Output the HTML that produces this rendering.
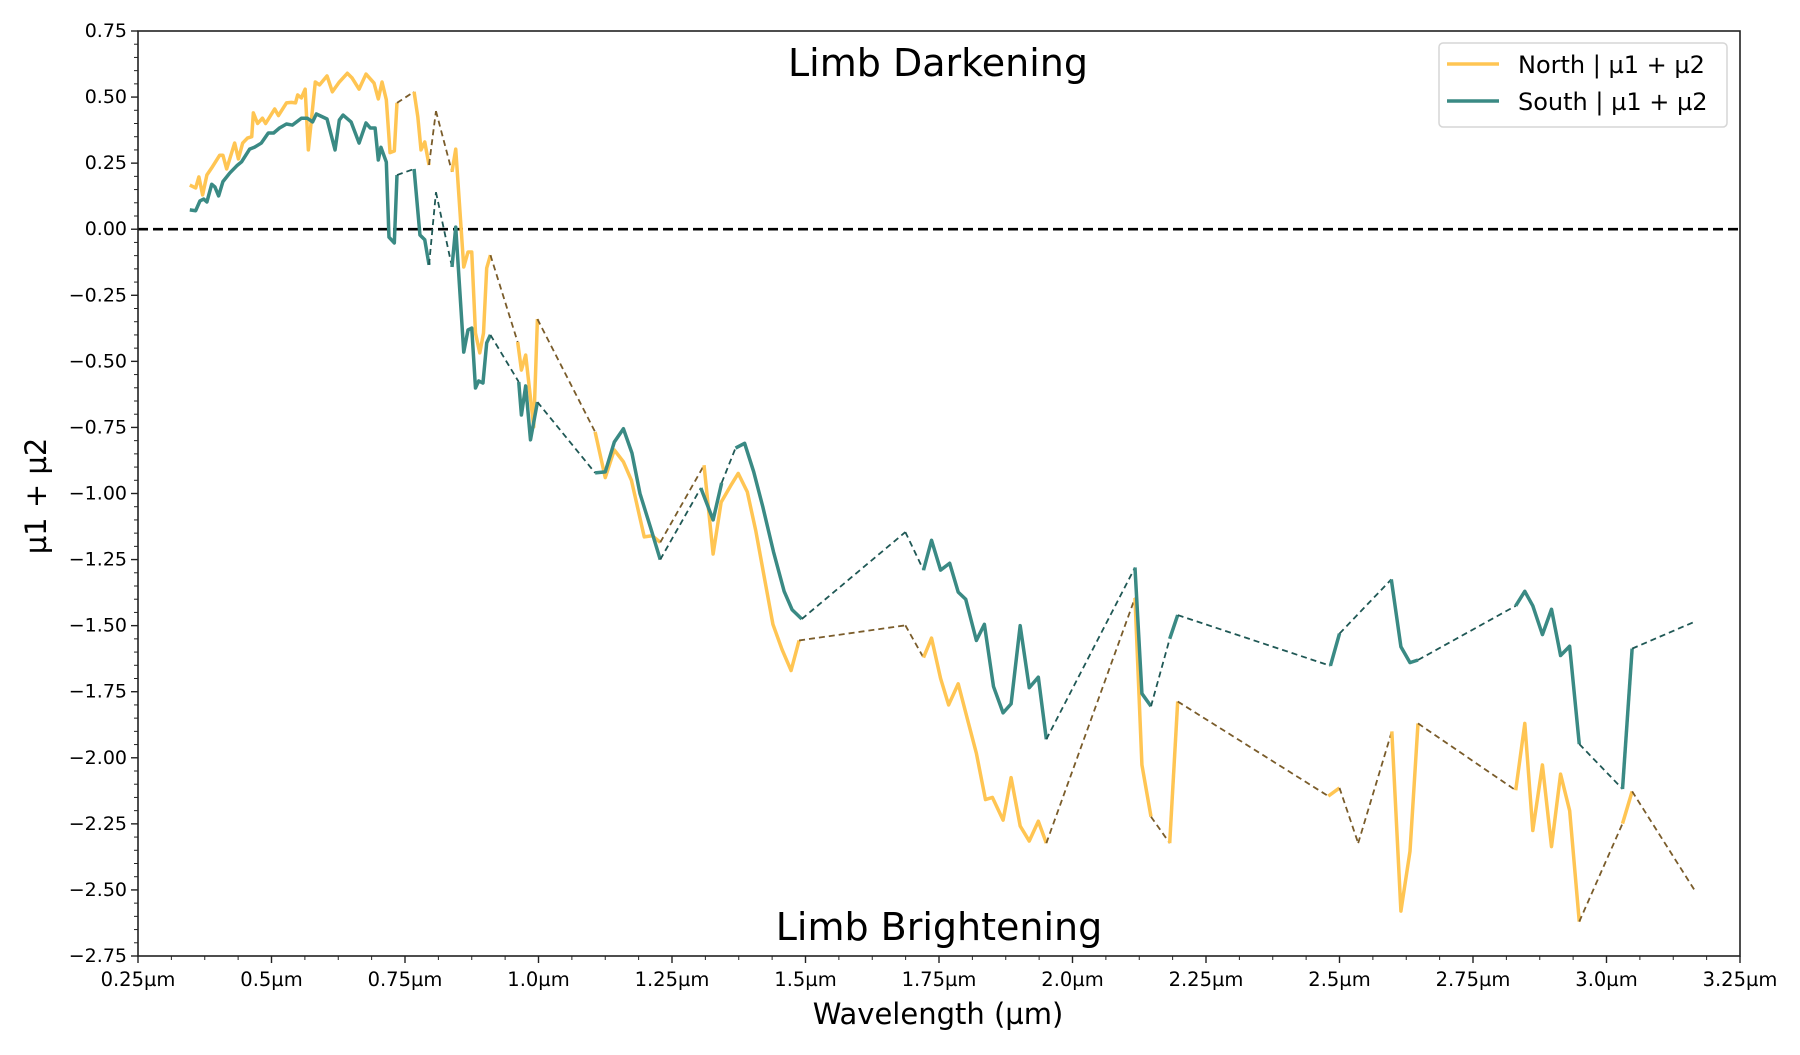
<!DOCTYPE html>
<html><head><meta charset="utf-8"><style>
html,body{margin:0;padding:0;background:#fff;}
svg text{font-family:"DejaVu Sans","Liberation Sans",sans-serif;}
</style></head><body>
<svg id="chart" width="1800" height="1050" viewBox="0 0 1800 1050" xmlns="http://www.w3.org/2000/svg">
<rect width="1800" height="1050" fill="#fff"/>
<g id="grid"></g>
<g id="series"></g>
<g id="axes"></g>
</svg>
<script>
const xTicks = [0.25,0.5,0.75,1.0,1.25,1.5,1.75,2.0,2.25,2.5,2.75,3.0,3.25];
const xTickLabels = ["0.25µm","0.5µm","0.75µm","1.0µm","1.25µm","1.5µm","1.75µm","2.0µm","2.25µm","2.5µm","2.75µm","3.0µm","3.25µm"];
const yTicks = [0.75,0.5,0.25,0,-0.25,-0.5,-0.75,-1,-1.25,-1.5,-1.75,-2,-2.25,-2.5,-2.75];
const yTickLabels = ["0.75","0.50","0.25","0.00","−0.25","−0.50","−0.75","−1.00","−1.25","−1.50","−1.75","−2.00","−2.25","−2.50","−2.75"];

// North: null entries mark gaps (bridged by dashed lines)
const northWl = [0.347,0.358,0.364,0.371,0.379,0.388,0.403,0.409,0.416,0.431,0.438,0.446,0.455,0.463,0.466,0.474,0.483,0.489,0.506,0.513,0.528,0.537,0.545,0.549,0.556,0.563,0.569,0.582,0.59,0.604,0.614,0.627,0.642,0.651,0.664,0.677,0.692,0.70,0.707,0.715,0.722,0.73,0.735,0.75,0.767,0.774,0.78,0.787,0.795,0.80,0.808,0.82,0.838,0.845,0.86,0.868,0.875,0.882,0.89,0.897,0.903,0.91,0.93,0.961,0.968,0.976,0.991,0.998,1.05,1.106,1.125,1.142,1.159,1.174,1.198,1.213,1.228,1.27,1.31,1.327,1.342,1.36,1.374,1.391,1.407,1.424,1.439,1.456,1.473,1.488,1.6,1.687,1.70,1.721,1.736,1.753,1.768,1.786,1.803,1.82,1.837,1.85,1.87,1.885,1.902,1.919,1.936,1.951,2.0,2.117,2.13,2.147,2.16,2.182,2.197,2.3,2.479,2.5,2.52,2.535,2.56,2.598,2.615,2.632,2.647,2.7,2.83,2.847,2.862,2.88,2.897,2.914,2.931,2.949,3.0,3.03,3.048,3.1,3.164];
const northVal = [0.167,0.156,0.198,0.13,0.205,0.232,0.28,0.28,0.228,0.326,0.266,0.326,0.345,0.35,0.44,0.40,0.42,0.40,0.455,0.43,0.478,0.48,0.478,0.508,0.497,0.53,0.30,0.557,0.546,0.58,0.52,0.557,0.59,0.572,0.53,0.587,0.553,0.493,0.557,0.49,0.29,0.296,0.478,null,0.52,0.425,0.30,0.33,0.243,null,0.447,null,0.217,0.303,-0.143,-0.086,-0.086,-0.393,-0.468,-0.393,-0.147,-0.098,null,-0.427,-0.533,-0.476,-0.748,-0.34,null,-0.767,-0.94,-0.835,-0.88,-0.95,-1.164,-1.16,-1.185,null,-0.893,-1.229,-1.033,-0.97,-0.924,-0.994,-1.142,-1.33,-1.495,-1.59,-1.67,-1.556,null,-1.499,null,-1.621,-1.547,-1.70,-1.80,-1.72,-1.852,-1.983,-2.158,-2.15,-2.236,-2.075,-2.258,-2.315,-2.24,-2.323,null,-1.395,-2.027,-2.223,null,-2.323,-1.787,null,-2.145,-2.114,null,-2.323,null,-1.90,-2.58,-2.354,-1.87,null,-2.123,-1.87,-2.275,-2.027,-2.336,-2.062,-2.2,-2.62,null,-2.249,-2.127,null,-2.498];

const southWl = [0.347,0.358,0.366,0.373,0.379,0.388,0.394,0.401,0.409,0.422,0.435,0.444,0.459,0.468,0.481,0.494,0.504,0.515,0.528,0.539,0.556,0.567,0.577,0.584,0.604,0.619,0.627,0.634,0.649,0.664,0.677,0.685,0.694,0.70,0.705,0.715,0.72,0.73,0.735,0.75,0.767,0.778,0.787,0.795,0.80,0.808,0.82,0.838,0.845,0.86,0.868,0.875,0.882,0.888,0.896,0.903,0.91,0.93,0.963,0.968,0.976,0.985,0.998,1.05,1.106,1.125,1.142,1.159,1.175,1.19,1.21,1.228,1.27,1.304,1.327,1.343,1.355,1.369,1.386,1.403,1.42,1.44,1.46,1.475,1.493,1.6,1.687,1.70,1.721,1.736,1.753,1.77,1.786,1.80,1.82,1.835,1.852,1.87,1.885,1.902,1.919,1.936,1.951,2.0,2.117,2.13,2.147,2.16,2.182,2.197,2.3,2.483,2.5,2.55,2.597,2.615,2.632,2.647,2.7,2.83,2.847,2.862,2.88,2.897,2.914,2.931,2.949,3.0,3.03,3.048,3.1,3.164];
const southVal = [0.073,0.07,0.107,0.114,0.103,0.17,0.16,0.126,0.18,0.213,0.24,0.255,0.303,0.31,0.326,0.364,0.364,0.383,0.398,0.394,0.42,0.42,0.406,0.436,0.417,0.30,0.413,0.432,0.406,0.326,0.402,0.383,0.383,0.262,0.31,0.254,-0.03,-0.052,0.205,null,0.228,-0.022,-0.04,-0.135,null,0.14,null,-0.143,0.008,-0.465,-0.381,-0.374,-0.601,-0.574,-0.582,-0.43,-0.40,null,-0.578,-0.703,-0.593,-0.797,-0.654,null,-0.922,-0.918,-0.805,-0.755,-0.847,-1.0,-1.13,-1.25,null,-0.979,-1.10,-0.96,null,-0.828,-0.81,-0.918,-1.05,-1.22,-1.37,-1.44,-1.475,null,-1.146,null,-1.29,-1.177,-1.29,-1.264,-1.373,-1.40,-1.556,-1.495,-1.73,-1.83,-1.796,-1.50,-1.735,-1.695,-1.93,null,-1.28,-1.757,-1.805,null,-1.55,-1.46,null,-1.652,-1.53,null,-1.325,-1.58,-1.64,-1.63,null,-1.425,-1.37,-1.425,-1.534,-1.438,-1.613,-1.578,-1.948,null,-2.118,-1.587,null,-1.486];

const NS='http://www.w3.org/2000/svg';
const L=138, R=1740, T=31, B=956;
const xMin=0.25, xMax=3.25, yMin=-2.75, yMax=0.75;
function sx(v){return L+(v-xMin)/(xMax-xMin)*(R-L);}
function sy(v){return T+(yMax-v)/(yMax-yMin)*(B-T);}
function mk(tag,attrs,parent){const e=document.createElementNS(NS,tag);for(const k in attrs)e.setAttribute(k,attrs[k]);parent.appendChild(e);return e;}
const axes=document.getElementById('axes');
const series=document.getElementById('series');
const grid=document.getElementById('grid');

const z=mk('line',{x1:L,x2:R,y1:sy(0),y2:sy(0),stroke:'#000','stroke-width':2.6,'stroke-dasharray':'10,5'},grid);



function drawSeries(wl,val,color,dark,name){
  const g=mk('g',{},series);
  
  
  let run=[], prev=null, gap=false;
  const flush=()=>{ if(run.length>1){const p=mk('polyline',{points:run.map(q=>q.join(',')).join(' '),fill:'none',stroke:color,'stroke-width':3.5,'stroke-linejoin':'round'},g);
      
      } run=[]; };
  for(let i=0;i<wl.length;i++){
    const v=val[i];
    if(v===null){gap=true;continue;}
    const pt=[sx(wl[i]),sy(v)];
    if(gap&&prev){ flush();
      const d=mk('line',{x1:prev[0],y1:prev[1],x2:pt[0],y2:pt[1],stroke:dark,'stroke-width':1.8,'stroke-dasharray':'6,4'},g);
      
      
    }
    gap=false; run.push(pt); prev=pt;
  }
  flush();
}
drawSeries(northWl,northVal,'#FFC553','#7A5C2A','north');
drawSeries(southWl,southVal,'#3A8A84','#1F5855','south');

const fr=mk('rect',{x:L,y:T,width:R-L,height:B-T,fill:'none',stroke:'#222','stroke-width':1.6},axes);



xTicks.forEach((t,i)=>{
  const x=sx(t);
  mk('line',{x1:x,x2:x,y1:B,y2:B+7,stroke:'#222','stroke-width':1.4},axes);
  const tx=mk('text',{x:x,y:B+30,'font-size':19.5,'text-anchor':'middle',fill:'#000'},axes);
  tx.textContent=xTickLabels[i];
  
  
  if(i<xTicks.length-1){for(let k=1;k<4;k++){const mx=sx(t+k*0.0625);mk('line',{x1:mx,x2:mx,y1:B,y2:B+4,stroke:'#222','stroke-width':1},axes);}}
});
yTicks.forEach((t,i)=>{
  const y=sy(t);
  mk('line',{x1:L-7,x2:L,y1:y,y2:y,stroke:'#222','stroke-width':1.4},axes);
  const tx=mk('text',{x:L-11,y:y+6,'font-size':19,'text-anchor':'end',fill:'#000'},axes);
  tx.textContent=yTickLabels[i];
  
  
  if(i<yTicks.length-1){for(let k=1;k<5;k++){const my=sy(t-k*0.05);mk('line',{x1:L-4,x2:L,y1:my,y2:my,stroke:'#222','stroke-width':1},axes);}}
});
</script>
<svg width="1800" height="1050" style="position:absolute;left:0;top:0" xmlns="http://www.w3.org/2000/svg">
<text x="938" y="76" font-size="38" text-anchor="middle">Limb Darkening</text>
<text x="939" y="940" font-size="38" text-anchor="middle">Limb Brightening</text>
<text x="938" y="1024" font-size="29" text-anchor="middle">Wavelength (µm)</text>
<text x="0" y="0" font-size="29" text-anchor="middle" transform="translate(46,496) rotate(-90)">µ1 + µ2</text>
<g transform="translate(-7,0)">
<rect x="1446" y="43" width="288" height="84" rx="4" fill="#fff" fill-opacity="0.85" stroke="#d6d6d6" stroke-width="1.5"/>
<line x1="1454" y1="64" x2="1506" y2="64" stroke="#FFC553" stroke-width="3.5"/>
<text x="1525" y="73" font-size="24">North | µ1 + µ2</text>
<line x1="1454" y1="101" x2="1506" y2="101" stroke="#3A8A84" stroke-width="3.5"/>
<text x="1525" y="110" font-size="24">South | µ1 + µ2</text>
</g>
</svg>
</body></html>
